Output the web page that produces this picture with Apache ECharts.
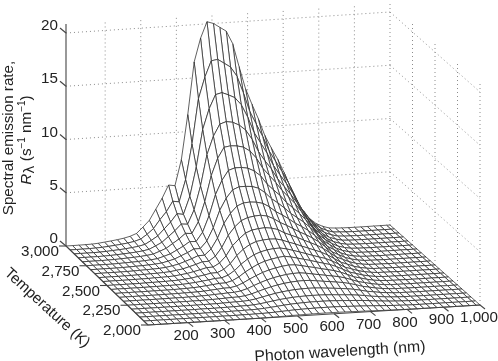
<!DOCTYPE html>
<html><head><meta charset="utf-8">
<style>html,body{margin:0;padding:0;background:#fff}#c{width:498px;height:361px}</style>
<script src="https://cdn.jsdelivr.net/npm/echarts@6/dist/echarts.min.js"></script>
</head><body><div id="c"></div>
<script>
// Wavelength grid of the surface (nm)
const wavelengths = [90,108,126,144,162,180,198,216,234,252,270,288,306,324,342,360,378,396,414,432,450,468,486,504,522,540,558,576,594,612,630,648,666,684,702,720,738,756,774,792,810,828,846,864,882,900,918,936,954,972,990,1000];
// Temperature grid (K), back to front
const temperatures = [3000,2950,2900,2850,2800,2750,2700,2650,2600,2550,2500,2450,2400,2350,2300,2250,2200,2150,2100,2050,2000];
// Spectral emission rate; one row per temperature, trailing cells are zero
const rates = [
[0,0,0,.01,.02,.06,.13,.2,.28,.38,.52,.75,1.3,1.9,2.9,3.9,5.1,5.0,7.4,11.6,16.5,18.7,20.2,20,19.6,19.2,18,15.8,13.7,12.2,10.8,9.2,8,6.9,5.6,4.2,2.7,1.9,1.1,.6,.3,.1,.05,.02,.01],
[0,0,0,.01,.02,.05,.1,.16,.22,.3,.41,.59,1.0,1.5,2.3,3.0,3.95,3.85,5.9,9.2,13.4,15.4,16.9,17,16.6,16.2,15.3,13.7,11.9,10.7,9.5,8.1,7.1,6.1,5,3.75,2.4,1.7,1,.55,.27,.09,.05,.02,.01],
[0,0,0,0,.01,.04,.08,.12,.17,.24,.32,.46,.8,1.18,1.8,2.4,3.15,3.05,4.7,7.4,10.9,12.8,14.1,14.25,14,13.7,13,11.8,10.3,9.3,8.3,7.1,6.2,5.35,4.4,3.3,2.15,1.5,.88,.48,.24,.08,.04,.02,.01],
[0,0,0,0,.01,.03,.06,.1,.14,.19,.26,.37,.65,.95,1.45,1.95,2.55,2.5,3.8,6,8.9,10.6,11.7,11.9,11.8,11.5,11,10.1,8.9,8,7.2,6.2,5.45,4.7,3.85,2.9,1.9,1.33,.78,.42,.21,.07,.03,.01,.01],
[0,0,0,0,.01,.02,.05,.08,.11,.15,.21,.3,.52,.76,1.16,1.56,2.05,2,3.05,4.9,7.3,8.9,9.9,10,9.95,9.8,9.4,8.7,7.7,7,6.3,5.5,4.85,4.2,3.4,2.55,1.7,1.18,.7,.38,.19,.06,.03,.01,.01],
[0,0,0,0,0,.02,.04,.06,.09,.12,.17,.24,.42,.61,.93,1.25,1.65,1.62,2.45,3.95,5.9,7.2,8.1,8.3,8.3,8.2,7.9,7.4,6.6,6,5.45,4.75,4.2,3.65,3,2.25,1.5,1.05,.63,.34,.17,.06,.03,.01],
[0,0,0,0,0,.01,.03,.05,.07,.1,.14,.2,.34,.5,.76,1.02,1.33,1.33,2,3.2,4.8,5.9,6.65,6.9,6.9,6.85,6.65,6.2,5.6,5.15,4.65,4.1,3.65,3.2,2.65,2,1.33,.94,.56,.31,.15,.05,.02,.01],
[0,0,0,0,0,.01,.02,.04,.06,.08,.11,.16,.27,.4,.61,.82,1.07,1.08,1.62,2.6,3.95,4.85,5.5,5.75,5.8,5.75,5.6,5.25,4.75,4.4,4,3.55,3.2,2.8,2.3,1.76,1.18,.84,.5,.27,.13,.05,.02,.01],
[0,0,0,0,0,.01,.02,.03,.05,.06,.09,.13,.22,.32,.49,.66,.87,.88,1.32,2.1,3.2,3.95,4.5,4.75,4.85,4.9,4.78,4.5,4.1,3.8,3.45,3.1,2.8,2.45,2.05,1.55,1.05,.75,.45,.25,.12,.04,.02,.01],
[0,0,0,0,0,.01,.01,.02,.04,.05,.07,.1,.18,.26,.39,.53,.69,.71,1.05,1.68,2.6,3.2,3.7,3.95,4.05,4.1,4.02,3.85,3.5,3.25,3,2.7,2.43,2.15,1.8,1.37,.93,.67,.41,.22,.11,.04,.02,.01],
[0,0,0,0,0,0,.01,.02,.03,.04,.06,.08,.14,.2,.31,.41,.54,.56,.83,1.32,2.05,2.6,3,3.25,3.35,3.4,3.38,3.23,3,2.8,2.55,2.33,2.1,1.87,1.57,1.2,.82,.6,.36,.2,.1,.03,.02,.01],
[0,0,0,0,0,0,.01,.01,.02,.03,.04,.06,.11,.16,.24,.32,.42,.44,.65,1.05,1.6,2.05,2.42,2.65,2.8,2.88,2.9,2.78,2.6,2.42,2.22,2.02,1.83,1.65,1.38,1.06,.72,.53,.32,.18,.09,.03,.02,.01],
[0,0,0,0,0,0,.01,.01,.01,.02,.03,.05,.08,.12,.19,.25,.33,.34,.51,.82,1.25,1.6,1.92,2.15,2.3,2.42,2.5,2.4,2.25,2.1,1.95,1.78,1.62,1.46,1.23,.94,.64,.47,.29,.16,.08,.03,.01,.01],
[0,0,0,0,0,0,0,.01,.01,.02,.03,.04,.06,.09,.14,.19,.25,.26,.38,.63,.95,1.24,1.5,1.7,1.85,1.97,2.05,2.03,1.92,1.78,1.66,1.52,1.39,1.26,1.07,.83,.57,.42,.26,.14,.07,.03,.01,.01],
[0,0,0,0,0,0,0,.01,.01,.01,.02,.03,.05,.07,.11,.14,.18,.2,.29,.47,.72,.96,1.17,1.34,1.47,1.57,1.63,1.65,1.58,1.47,1.37,1.27,1.17,1.07,.91,.71,.49,.36,.22,.12,.06,.02,.01],
[0,0,0,0,0,0,0,0,.01,.01,.02,.02,.03,.05,.07,.1,.13,.14,.21,.35,.54,.73,.9,1.04,1.15,1.23,1.28,1.3,1.28,1.2,1.12,1.05,.97,.89,.76,.6,.42,.31,.19,.11,.05,.02,.01],
[0,0,0,0,0,0,0,0,0,.01,.01,.02,.02,.03,.05,.07,.09,.1,.15,.25,.39,.53,.66,.76,.84,.9,.93,.95,.94,.9,.85,.8,.74,.68,.59,.47,.33,.25,.15,.09,.04,.02,.01],
[0,0,0,0,0,0,0,0,0,0,.01,.01,.01,.02,.03,.04,.06,.07,.1,.17,.26,.36,.45,.52,.58,.62,.64,.65,.65,.63,.6,.56,.52,.48,.42,.34,.24,.18,.11,.06,.03,.01,.01],
[0,0,0,0,0,0,0,0,0,0,.01,.01,.01,.01,.02,.03,.04,.05,.07,.11,.17,.23,.3,.35,.39,.42,.44,.45,.45,.44,.42,.39,.36,.33,.29,.24,.17,.13,.08,.05,.02,.01],
[0,0,0,0,0,0,0,0,0,0,0,.01,.01,.01,.01,.02,.02,.03,.04,.06,.09,.12,.16,.19,.21,.23,.24,.25,.25,.25,.24,.22,.2,.18,.16,.13,.1,.07,.05,.03,.01],
[0,0,0,0,0,0,0,0,0,0,0,0,.01,.01,.01,.01,.01,.01,.02,.03,.04,.06,.08,.09,.1,.11,.12,.12,.12,.12,.11,.1,.09,.08,.07,.05,.04,.03,.02,.01]
];
// Tick values and labels
const wavelengthTicks = [200,300,400,500,600,700,800,900,1000];
const wavelengthLabels = ['200','300','400','500','600','700','800','900','1,000'];
const temperatureTicks = [3000,2750,2500,2250,2000];
const temperatureLabels = ['3,000','2,750','2,500','2,250','2,000'];
const rateTicks = [0,5,10,15,20];

// Projection of (wavelength, temperature, rate) on the picture plane
const WL0 = 90, WL1 = 1000, T0 = 2000, T1 = 3000, ZTOP = 20.85, PX_PER_Z = 10.65;
function project(wl, t, z) {
  const u = (wl - WL0) / (WL1 - WL0), v = (t - T0) / (T1 - T0);
  const fx = 148 + 332 * u, fy = 325 - 20 * u;
  const bx = 66 + 324 * u, by = 246 - 21 * u;
  return [fx + (bx - fx) * v, fy + (by - fy) * v - z * PX_PER_Z];
}

// Surface cells, painted far to near
const cells = [];
for (let r = 0; r < temperatures.length - 1; r++)
  for (let c = wavelengths.length - 2; c >= 0; c--) cells.push([c, r]);
const rate = (r, c) => rates[r][c] || 0;

function segmentSeries(segments, style, z) {
  return {
    type: 'custom', coordinateSystem: 'cartesian2d', silent: true, animation: false, clip: false, z: z,
    data: segments.map((s, i) => [i, 0]),
    renderItem(params, api) {
      const s = segments[params.dataIndex];
      const a = api.coord(s[0]), b = api.coord(s[1]);
      return { type: 'line', shape: { x1: a[0], y1: a[1], x2: b[0], y2: b[1] }, style: Object.assign({ fill: null }, style) };
    }
  };
}
function add(p, dx, dy) { return [p[0] + dx, p[1] + dy]; }

const gridSegs = [];
rateTicks.slice(1).forEach(z => {
  gridSegs.push([project(WL0, T1, z), project(WL1, T1, z)]);
  gridSegs.push([project(WL1, T1, z), project(WL1, T0, z)]);
});
wavelengthTicks.forEach(w => gridSegs.push([project(w, T1, 0), project(w, T1, ZTOP)]));
temperatureTicks.forEach(t => { if (t !== T1) gridSegs.push([project(WL1, t, 0), project(WL1, t, ZTOP)]); });

const axisSegs = [
  [project(WL0, T1, 0), project(WL0, T1, ZTOP)],
  [project(WL0, T0, 0), project(WL1, T0, 0)],
  [project(WL0, T0, 0), project(WL0, T1, 0)]
];
rateTicks.forEach(z => { const p = project(WL0, T1, z); axisSegs.push([add(p, -6, -5), p]); });
temperatureTicks.forEach(t => { const p = project(WL0, t, 0); axisSegs.push([add(p, -7, 0), p]); });
wavelengthTicks.forEach(w => { const p = project(w, T0, 0); axisSegs.push([p, add(p, 5, 4)]); });

const font = "15.2px 'Liberation Sans', Arial, sans-serif";
const labels = [];
rateTicks.forEach(z => { const p = project(WL0, T1, z); labels.push({ t: String(z), p: add(p, -8, -7), a: 'right' }); });
temperatureTicks.forEach((t, i) => { const p = project(WL0, t, 0); labels.push({ t: temperatureLabels[i], p: add(p, -7, 6), a: 'right' }); });
wavelengthTicks.forEach((w, i) => { const p = project(w, T0, 0); labels.push({ t: wavelengthLabels[i], p: add(p, w === 1000 ? -1 : -2, 13), a: 'center' }); });

const option = {
  backgroundColor: '#fff', animation: false,
  grid: { left: 0, right: 0, top: 0, bottom: 0 },
  xAxis: { type: 'value', min: 0, max: 498, show: false },
  yAxis: { type: 'value', min: 0, max: 361, inverse: true, show: false },
  series: [
    segmentSeries(gridSegs, { stroke: '#8c8c8c', lineWidth: 1, lineDash: [1, 3] }, 1),
    {
      type: 'custom', coordinateSystem: 'cartesian2d', silent: true, animation: false, clip: false, z: 2, progressive: 0,
      data: cells,
      renderItem(params, api) {
        const c = api.value(0), r = api.value(1);
        const pts = [[r, c], [r, c + 1], [r + 1, c + 1], [r + 1, c]].map(q =>
          api.coord(project(wavelengths[q[1]], temperatures[q[0]], rate(q[0], q[1]))));
        return { type: 'polygon', shape: { points: pts }, style: { fill: '#fff', stroke: '#2c2c2c', lineWidth: 0.75 } };
      }
    },
    segmentSeries(axisSegs, { stroke: '#444', lineWidth: 1.1 }, 3),
    {
      type: 'custom', coordinateSystem: 'cartesian2d', silent: true, animation: false, clip: false, z: 4,
      data: labels.map((l, i) => [i, 0]),
      renderItem(params, api) {
        const l = labels[params.dataIndex], p = api.coord(l.p);
        return { type: 'text', style: { text: l.t, x: p[0], y: p[1], font: font, fill: '#222', align: l.a, verticalAlign: 'middle' } };
      }
    }
  ],
  graphic: [
    { type: 'text', x: 340, y: 352, rotation: 3.4 * Math.PI / 180, style: { text: 'Photon wavelength (nm)', font: "15.8px 'Liberation Sans', Arial, sans-serif", fill: '#222', align: 'center', verticalAlign: 'middle' } },
    { type: 'text', x: 47, y: 308, rotation: -42.5 * Math.PI / 180, style: { text: 'Temperature (K)', font: font, fill: '#222', align: 'center', verticalAlign: 'middle' } },
    { type: 'text', x: 9, y: 138, rotation: Math.PI / 2, style: { text: 'Spectral emission rate,', font: font, fill: '#222', align: 'center', verticalAlign: 'middle' } },
    { type: 'text', x: 27, y: 140, rotation: Math.PI / 2, style: {
        text: '{i|R}{sub|λ} (s{sup|−1} nm{sup|−1})', font: font, fill: '#222', align: 'center', verticalAlign: 'middle',
        rich: {
          i: { font: "italic 15.2px 'Liberation Sans', Arial, sans-serif", fill: '#222', lineHeight: 20 },
          sub: { font: "14px 'DejaVu Sans', sans-serif", fill: '#222', verticalAlign: 'bottom', lineHeight: 20 },
          sup: { font: "10px 'Liberation Sans', Arial, sans-serif", fill: '#222', verticalAlign: 'top', lineHeight: 20 }
        } } }
  ]
};
const chart = echarts.init(document.getElementById('c'), null, { renderer: 'canvas' });
chart.setOption(option);
</script></body></html>
